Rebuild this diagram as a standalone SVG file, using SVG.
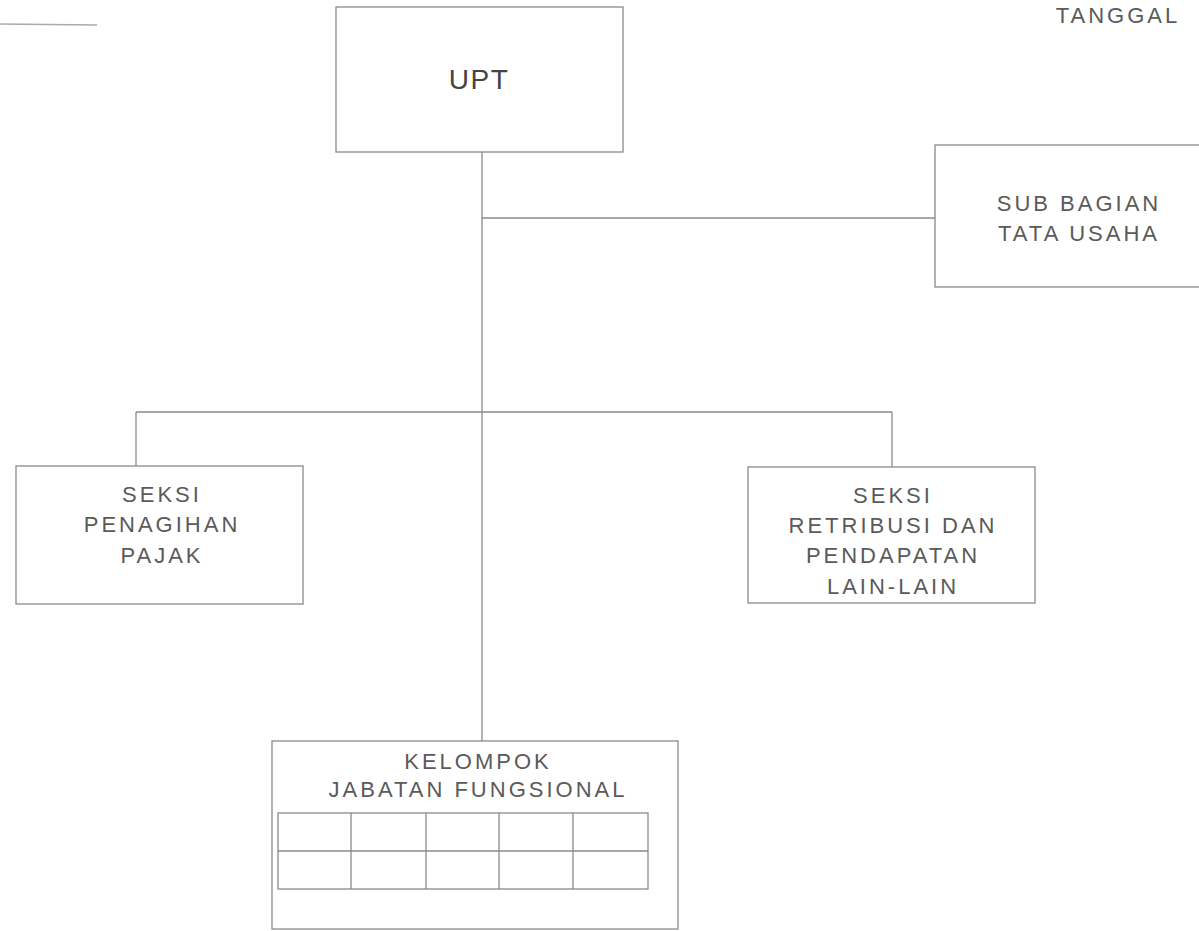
<svg xmlns="http://www.w3.org/2000/svg" width="1199" height="931" viewBox="0 0 1199 931">
<style>
.box{fill:none;stroke:#8a8a8a;stroke-width:1.3}
.ln{fill:none;stroke:#8a8a8a;stroke-width:1.3}
.t{font-family:"Liberation Sans",Arial,sans-serif;font-size:22px;letter-spacing:3px;fill:#5a5a5a;text-anchor:middle}
.upt{font-family:"Liberation Sans",Arial,sans-serif;font-size:28px;letter-spacing:1.5px;fill:#444;text-anchor:middle}
</style>
<rect width="1199" height="931" fill="#fff"/>
<line x1="0" y1="24" x2="97" y2="25" stroke="#aaa" stroke-width="1.3"/>
<text class="t" x="1118" y="23">TANGGAL</text>
<g id="connectors">
<line class="ln" x1="482" y1="152" x2="482" y2="741"/>
<line class="ln" x1="482" y1="218" x2="935" y2="218"/>
<line class="ln" x1="136" y1="412" x2="892" y2="412"/>
<line class="ln" x1="136" y1="412" x2="136" y2="466"/>
<line class="ln" x1="892" y1="412" x2="892" y2="467"/>
</g>
<g id="upt">
<rect class="box" x="336" y="7" width="287" height="145"/>
<text class="upt" x="479" y="89">UPT</text>
</g>
<g id="sub-bagian">
<rect class="box" x="935" y="145" width="280" height="142"/>
<text class="t" x="1079" y="211">SUB BAGIAN</text>
<text class="t" x="1079" y="241">TATA USAHA</text>
</g>
<g id="seksi-penagihan">
<rect class="box" x="16" y="466" width="287" height="138"/>
<text class="t" x="162" y="502">SEKSI</text>
<text class="t" x="162" y="532">PENAGIHAN</text>
<text class="t" x="162" y="563">PAJAK</text>
</g>
<g id="seksi-retribusi">
<rect class="box" x="748" y="467" width="287" height="136"/>
<text class="t" x="893" y="503">SEKSI</text>
<text class="t" x="893" y="533">RETRIBUSI DAN</text>
<text class="t" x="893" y="563">PENDAPATAN</text>
<text class="t" x="893" y="594">LAIN-LAIN</text>
</g>
<g id="kelompok">
<rect class="box" x="272" y="741" width="406" height="188"/>
<text class="t" x="478" y="769">KELOMPOK</text>
<text class="t" x="478" y="797">JABATAN FUNGSIONAL</text>
<rect class="box" x="278" y="813" width="370" height="76"/>
<line class="ln" x1="278" y1="851" x2="648" y2="851"/>
<line class="ln" x1="351" y1="813" x2="351" y2="889"/>
<line class="ln" x1="426" y1="813" x2="426" y2="889"/>
<line class="ln" x1="499" y1="813" x2="499" y2="889"/>
<line class="ln" x1="573" y1="813" x2="573" y2="889"/>
</g>
</svg>
